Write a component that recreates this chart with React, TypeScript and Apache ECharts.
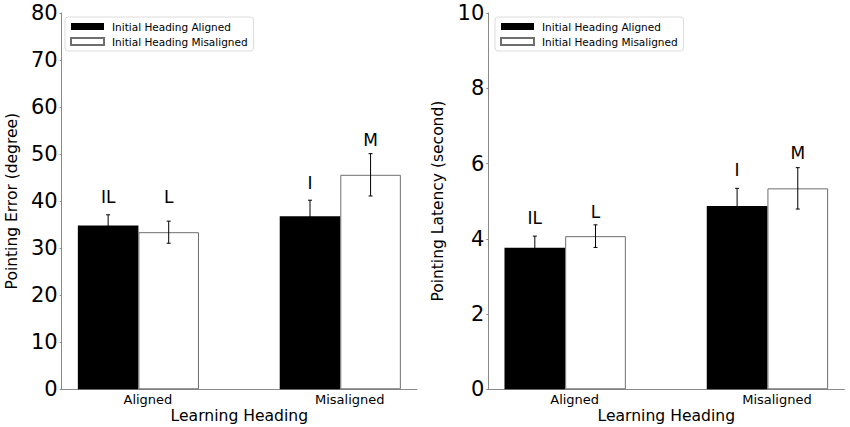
import React, { useEffect, useRef } from "react";
import * as echarts from "echarts";

const categories = ["Aligned", "Misaligned"];
const seriesNames = ["Initial Heading Aligned", "Initial Heading Misaligned"];

// Left chart: pointing error (degree)
const errorMeanAligned = [34.8, 36.8];
const errorMeanMisaligned = [33.4, 45.6];
const errorSEAligned = [2.3, 3.4];
const errorSEMisaligned = [2.35, 4.5];
const errorLetters = [["IL", "L"], ["I", "M"]];
const errorLetterY = [[40.9, 40.9], [43.9, 53.0]];
const errorTicks = { min: 0, max: 80, interval: 10 };

// Right chart: pointing latency (second)
const latencyMeanAligned = [3.76, 4.87];
const latencyMeanMisaligned = [4.07, 5.34];
const latencySEAligned = [0.31, 0.47];
const latencySEMisaligned = [0.3, 0.55];
const latencyLetters = [["IL", "L"], ["I", "M"]];
const latencyLetterY = [[4.54, 4.72], [5.83, 6.29]];
const latencyTicks = { min: 0, max: 10, interval: 2 };

const BAR = 0.3;
const XMIN = -0.38;
const XMAX = 1.38;
const FONT = "DejaVu Sans";
const AXIS_COLOR = "#8a8a8a";

const grids = [
  { left: 61.7, top: 13, width: 355.3, height: 376.3, containLabel: false, outerBoundsMode: "none" },
  { left: 488.3, top: 13, width: 356, height: 376.3, containLabel: false, outerBoundsMode: "none" },
];

function buildChart(
  idx: number,
  meanA: number[],
  meanM: number[],
  seA: number[],
  seM: number[],
  letters: string[][],
  letterY: number[][]
) {
  const barPx = (grids[idx].width * BAR) / (XMAX - XMIN);
  const xsA = categories.map((_, i) => i - BAR / 2);
  const xsM = categories.map((_, i) => i + BAR / 2);
  const barA = {
    type: "bar",
    name: seriesNames[0],
    xAxisIndex: idx,
    yAxisIndex: idx,
    barWidth: barPx,
    barGap: "-100%",
    itemStyle: { color: "#000", borderWidth: 0 },
    data: meanA.map((v, i) => [xsA[i], v]),
  };
  const barM = {
    type: "bar",
    name: seriesNames[1],
    xAxisIndex: idx,
    yAxisIndex: idx,
    barWidth: barPx,
    barGap: "-100%",
    itemStyle: { color: "#fff", borderColor: "#6e6e6e", borderWidth: 1 },
    data: meanM.map((v, i) => [xsM[i], v]),
  };
  const errData: number[][] = [];
  meanA.forEach((v, i) => errData.push([xsA[i], v, seA[i]]));
  meanM.forEach((v, i) => errData.push([xsM[i], v, seM[i]]));
  const errSeries = {
    type: "custom",
    xAxisIndex: idx,
    yAxisIndex: idx,
    z: 5,
    silent: true,
    data: errData,
    renderItem: (params: any, api: any) => {
      const x = api.value(0);
      const m = api.value(1);
      const e = api.value(2);
      const top = api.coord([x, m + e]);
      const bot = api.coord([x, m - e]);
      const style = { stroke: "#000", lineWidth: 1 };
      return {
        type: "group",
        children: [
          { type: "line", shape: { x1: top[0], y1: top[1], x2: bot[0], y2: bot[1] }, style },
          { type: "line", shape: { x1: top[0] - 2, y1: top[1], x2: top[0] + 2, y2: top[1] }, style },
          { type: "line", shape: { x1: bot[0] - 2, y1: bot[1], x2: bot[0] + 2, y2: bot[1] }, style },
        ],
      };
    },
  };
  const letterData: any[] = [];
  categories.forEach((_, i) => {
    letterData.push({ value: [xsA[i], letterY[i][0]], text: letters[i][0] });
    letterData.push({ value: [xsM[i], letterY[i][1]], text: letters[i][1] });
  });
  const letterSeries = {
    type: "custom",
    xAxisIndex: idx,
    yAxisIndex: idx,
    z: 6,
    silent: true,
    data: letterData,
    renderItem: (params: any, api: any) => {
      const p = api.coord([api.value(0), api.value(1)]);
      return {
        type: "text",
        x: p[0],
        y: p[1],
        style: {
          text: letterData[params.dataIndex].text,
          fontSize: 17,
          fontFamily: FONT,
          fill: "#000",
          align: "center",
          verticalAlign: "middle",
        },
      };
    },
  };
  return [barA, barM, errSeries, letterSeries];
}

export default function App() {
  const ref = useRef<HTMLDivElement>(null);
  useEffect(() => {
    if (!ref.current) return;
    const chart = echarts.init(ref.current, null, { renderer: "svg" });
    const xAxis = grids.map((_, i) => ({
      type: "value",
      gridIndex: i,
      min: XMIN,
      max: XMAX,
      name: "Learning Heading",
      nameLocation: "middle",
      nameGap: 18.5,
      nameMoveOverlap: false,
      nameTextStyle: { fontSize: 15.6, fontFamily: FONT, color: "#000" },
      axisLine: { show: true, onZero: false, lineStyle: { color: AXIS_COLOR, width: 1 } },
      axisTick: { show: false },
      splitLine: { show: false },
      axisLabel: {
        customValues: categories.map((_, k) => k),
        formatter: (v: number) => categories[Math.round(v)] ?? "",
        fontSize: 13,
        fontFamily: FONT,
        color: "#000",
        margin: 4,
        padding: [0, 0, 0, 19],
      },
    }));
    const yNames = ["Pointing Error (degree)", "Pointing Latency (second)"];
    const ticks = [errorTicks, latencyTicks];
    const yAxis = grids.map((_, i) => ({
      type: "value",
      gridIndex: i,
      min: ticks[i].min,
      max: ticks[i].max,
      interval: ticks[i].interval,
      name: yNames[i],
      nameLocation: "middle",
      nameGap: 42,
      nameMoveOverlap: false,
      nameTextStyle: { fontSize: 15.5, fontFamily: FONT, color: "#000" },
      axisLine: { show: true, onZero: false, lineStyle: { color: AXIS_COLOR, width: 1 } },
      axisTick: { show: true, length: 2, lineStyle: { color: AXIS_COLOR } },
      splitLine: { show: false },
      axisLabel: { fontSize: 21, fontFamily: FONT, color: "#000", margin: 4 },
    }));
    const legendBase = {
      orient: "vertical",
      top: 17,
      itemWidth: 33,
      itemHeight: 7,
      itemGap: 4,
      padding: [4, 6, 4, 5],
      borderColor: "#dcdcdc",
      borderWidth: 1,
      borderRadius: 3,
      icon: "rect",
      selectedMode: false,
      data: seriesNames,
      textStyle: { fontSize: 10.5, fontFamily: FONT, color: "#000", padding: [0, 0, 0, 3] },
    };
    const series = [
      ...buildChart(0, errorMeanAligned, errorMeanMisaligned, errorSEAligned, errorSEMisaligned, errorLetters, errorLetterY),
      ...buildChart(1, latencyMeanAligned, latencyMeanMisaligned, latencySEAligned, latencySEMisaligned, latencyLetters, latencyLetterY),
    ];
    chart.setOption({
      animation: false,
      backgroundColor: "#fff",
      grid: grids,
      xAxis,
      yAxis,
      legend: [
        { ...legendBase, left: 65 },
        { ...legendBase, left: 495 },
      ],
      series,
    });
    return () => chart.dispose();
  }, []);
  return (
    <div
      ref={ref}
      style={{ position: "fixed", left: 0, top: 0, width: 850, height: 427, background: "#fff" }}
    />
  );
}
